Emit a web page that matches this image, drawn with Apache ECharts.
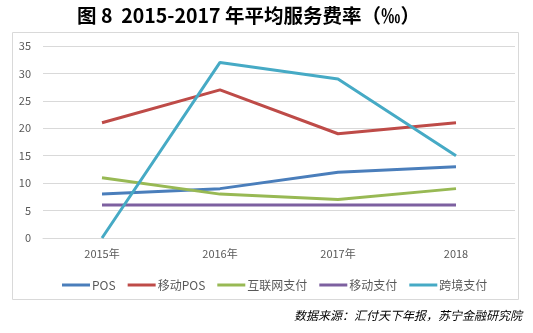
<!DOCTYPE html>
<html><head><meta charset="utf-8">
<script src="https://cdn.jsdelivr.net/npm/echarts@6/dist/echarts.min.js"></script>
<style>html,body{margin:0;padding:0;background:#fff}#c{width:533px;height:333px}</style>
</head><body><div id="c"></div>
<script>
const categories = ['2015年', '2016年', '2017年', '2018'];
const pos = [8, 9, 12, 13];
const mobilePos = [21, 27, 19, 21];
const internetPay = [11, 8, 7, 9];
const mobilePay = [6, 6, 6, 6];
const crossBorder = [0, 32, 29, 15];
const yTicks = [0, 5, 10, 15, 20, 25, 30, 35];

const names = ['POS', '移动POS', '互联网支付', '移动支付', '跨境支付'];
const colors = ['#4a7ebb', '#be4b48', '#98b954', '#7d60a0', '#46aac5'];
const datas = [pos, mobilePos, internetPay, mobilePay, crossBorder];

const chart = echarts.init(document.getElementById('c'));
chart.setOption({
  animation: false,
  title: {
    text: '图 8  2015-2017 年平均服务费率（‰）',
    left: 72, top: 1,
    textStyle: { fontFamily: 'Noto Sans CJK SC', fontWeight: 'bold', fontSize: 19.5, color: '#000' }
  },
  graphic: [
    { type: 'rect', shape: { x: 12.5, y: 32.5, width: 506, height: 267 }, style: { fill: 'none', stroke: '#d9d9d9', lineWidth: 1 }, z: -1 },
    { type: 'text', right: 11, top: 309, style: { text: '数据来源：汇付天下年报，苏宁金融研究院', fontFamily: 'Noto Sans CJK SC', fontSize: 12, fontStyle: 'italic', fill: '#000' } }
  ],
  grid: { left: 43, right: 18, top: 46, bottom: 95 },
  legend: {
    data: names, top: 274, left: 57,
    itemWidth: 28, itemHeight: 3, itemGap: 12,
    icon: 'rect',
    textStyle: { fontFamily: 'Noto Sans CJK SC', fontSize: 12, color: '#595959', padding: [0, 0, 0, -3] }
  },
  xAxis: {
    type: 'category', data: categories, boundaryGap: true,
    axisLine: { lineStyle: { color: '#d9d9d9' } },
    axisTick: { show: false },
    axisLabel: { color: '#595959', fontSize: 11, fontFamily: 'Noto Sans CJK SC', margin: 10 }
  },
  yAxis: {
    type: 'value', min: yTicks[0], max: yTicks[yTicks.length - 1], interval: 5,
    axisLine: { show: false }, axisTick: { show: false },
    splitLine: { lineStyle: { color: '#d9d9d9' } },
    axisLabel: { color: '#595959', fontSize: 11, fontFamily: 'Noto Sans CJK SC', margin: 12 }
  },
  series: names.map((n, i) => ({
    name: n, type: 'line', data: datas[i], symbol: 'none',
    lineStyle: { color: colors[i], width: 3 }, itemStyle: { color: colors[i] }
  }))
});
</script></body></html>
